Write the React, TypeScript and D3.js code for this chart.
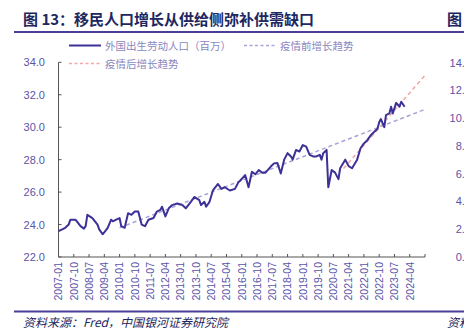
import React from "react";
import * as d3 from "d3";

const months = [
  "2007-01","2007-05","2007-07","2007-08","2007-11","2008-02","2008-04","2008-05","2008-06","2008-09",
  "2008-12","2009-01","2009-03","2009-05","2009-06","2009-08","2009-09","2009-11","2010-01","2010-02",
  "2010-04","2010-06","2010-08","2010-10","2010-12","2011-02","2011-04","2011-06","2011-09","2011-11",
  "2012-01","2012-02","2012-04","2012-06","2012-08","2012-11","2013-02","2013-04","2013-07","2013-09",
  "2013-12","2014-01","2014-03","2014-04","2014-06","2014-08","2014-11","2015-01","2015-03","2015-06",
  "2015-09","2015-11","2015-12","2016-03","2016-05","2016-07","2016-09","2016-11","2017-01","2017-03",
  "2017-06","2017-08","2017-10","2017-12","2018-02","2018-04","2018-06","2018-07","2018-09","2018-11",
  "2019-01","2019-03","2019-05","2019-07","2019-09","2019-11","2019-12","2020-01","2020-03","2020-04",
  "2020-06","2020-08","2020-10","2020-11","2021-02","2021-04","2021-06","2021-09","2021-11","2022-01",
  "2022-03","2022-05","2022-07","2022-09","2022-10","2022-11","2023-01","2023-02","2023-04","2023-05",
  "2023-06","2023-08","2023-10","2023-11","2024-01"
];
const laborForce = [
  23.6,23.8,24.0,24.3,24.3,23.9,23.75,23.9,24.6,24.4,
  24.0,23.7,23.4,23.66,23.8,24.3,24.2,24.3,24.4,23.9,
  23.8,24.7,24.6,24.8,24.8,24.0,23.9,24.3,24.4,24.8,
  24.9,25.1,24.5,25.0,25.2,25.3,25.2,25.0,25.4,25.7,
  25.5,25.2,25.4,25.1,25.4,26.1,26.5,26.2,26.3,26.1,
  26.2,26.6,26.7,27.05,26.3,27.25,27.1,27.36,27.2,27.2,
  27.56,27.77,27.8,27.15,28.0,28.4,28.2,28.0,28.6,28.5,
  28.9,28.8,28.3,28.2,28.2,28.3,28.0,28.4,28.6,26.3,
  27.36,27.2,26.8,27.47,28.0,27.6,27.47,28.0,28.7,29.0,
  29.2,29.5,29.7,29.9,30.3,30.5,30.0,30.75,30.85,31.26,
  30.85,31.5,31.26,31.57,31.26
];
const preTrendMonths = ["2010-01", "2025-01"];
const preTrendValues = [23.8, 31.1];
const postTrendMonths = ["2021-01", "2025-01"];
const postTrendValues = [27.45, 33.2];

const xTickLabels = [
  "2007-01","2007-10","2008-07","2009-04","2010-01","2010-10","2011-07","2012-04","2013-01","2013-10",
  "2014-07","2015-04","2016-01","2016-10","2017-07","2018-04","2019-01","2019-10","2020-07","2021-04",
  "2022-01","2022-10","2023-07","2024-04"
];
const yTicks = [22, 24, 26, 28, 30, 32, 34];
const rightTicks = ["14.0","12.0","10.0","8.0","6.0","4.0","2.0","0.0"];

const legendLabels = ["外国出生劳动人口（百万）", "疫情前增长趋势", "疫情后增长趋势"];
const title = "图 13：移民人口增长从供给侧弥补供需缺口";
const source = "资料来源：Fred，中国银河证券研究院";

const mIndex = (s: string) => {
  const [y, m] = s.split("-").map(Number);
  return (y - 2007) * 12 + (m - 1);
};

const CJK = "'Noto Sans CJK SC', 'Liberation Sans', sans-serif";
const LAT = "'Liberation Sans', Arial, sans-serif";

export default function App() {
  const x = d3.scaleLinear().domain([0, 216]).range([58.5, 425]);
  const y = d3.scaleLinear().domain([22, 34]).range([257, 62.3]);

  const line = d3
    .line<[number, number]>()
    .x((d) => x(d[0]))
    .y((d) => y(d[1]));

  const series: [number, number][] = months.map((m, i) => [mIndex(m), laborForce[i]]);
  const pre: [number, number][] = preTrendMonths.map((m, i) => [mIndex(m), preTrendValues[i]]);
  const post: [number, number][] = postTrendMonths.map((m, i) => [mIndex(m), postTrendValues[i]]);

  const xTicks = d3.range(0, 217, 9);
  const rightY = d3.scaleLinear().domain([0, 7]).range([62.5, 257]);

  const tickColor = "#5a54a8";
  const legendColor = "#8a86bd";
  const mainColor = "#3b3196";

  return (
    <svg
      width={464}
      height={331}
      style={{ position: "absolute", left: 0, top: 0, background: "#fff" }}
    >
      <text x={23} y={25} fontFamily={CJK} fontWeight="bold" fontSize={15} fill="#1d2760">
        {title}
      </text>
      <text x={447} y={25} fontFamily={CJK} fontWeight="bold" fontSize={15} fill="#1d2760">
        图
      </text>
      <line x1={14} x2={464} y1={32} y2={32} stroke="#4a3f98" strokeWidth={2} />

      {/* legend */}
      <line x1={69} x2={101} y1={45.5} y2={45.5} stroke={mainColor} strokeWidth={2} />
      <text x={105} y={49.5} fontFamily={CJK} fontSize={10.5} fill={legendColor}>
        {legendLabels[0]}
      </text>
      <line x1={244} x2={277} y1={45.5} y2={45.5} stroke="#a9a3d6" strokeWidth={1.5} strokeDasharray="3,2.5" />
      <text x={280} y={49.5} fontFamily={CJK} fontSize={10.5} fill={legendColor}>
        {legendLabels[1]}
      </text>
      <line x1={69} x2={101} y1={63.5} y2={63.5} stroke="#f4a6a6" strokeWidth={1.5} strokeDasharray="3,2.5" />
      <text x={105} y={67.5} fontFamily={CJK} fontSize={10.5} fill={legendColor}>
        {legendLabels[2]}
      </text>

      {/* axes */}
      <line x1={x(0)} x2={x(0)} y1={y(34)} y2={y(22)} stroke="#555" strokeWidth={1} />
      <line x1={x(0)} x2={x(216)} y1={y(22)} y2={y(22)} stroke="#555" strokeWidth={1} />
      {yTicks.map((t) => (
        <g key={t}>
          <line x1={x(0)} x2={x(0) + 3} y1={y(t)} y2={y(t)} stroke="#555" />
          <text x={45} y={y(t) + 4} textAnchor="end" fontFamily={LAT} fontSize={11} fill={tickColor}>
            {t.toFixed(1)}
          </text>
        </g>
      ))}
      {xTicks.map((t) => (
        <line key={t} x1={x(t)} x2={x(t)} y1={y(22)} y2={y(22) - 3} stroke="#555" />
      ))}
      {xTickLabels.map((lab) => {
        const px = x(mIndex(lab));
        return (
          <text
            key={lab}
            transform={`translate(${px + 3.8},262) rotate(-90)`}
            textAnchor="end"
            fontFamily={LAT}
            fontSize={10.5}
            fill={tickColor}
          >
            {lab}
          </text>
        );
      })}

      {/* trend lines */}
      <path d={line(pre) || ""} fill="none" stroke="#a9a3d6" strokeWidth={1.5} strokeDasharray="4,3" />
      <path d={line(post) || ""} fill="none" stroke="#f4a6a6" strokeWidth={1.5} strokeDasharray="4,3" />
      {/* main series */}
      <path d={line(series) || ""} fill="none" stroke={mainColor} strokeWidth={2} strokeLinejoin="round" />

      {/* right neighbour chart fragment */}
      {rightTicks.map((t, i) => (
        <text key={t} x={471} y={rightY(i) + 4} textAnchor="end" fontFamily={LAT} fontSize={11} fill={tickColor}>
          {t}
        </text>
      ))}

      {/* footer */}
      <line x1={14} x2={464} y1={311.5} y2={311.5} stroke="#4a3f98" strokeWidth={2} />
      <text x={23} y={327} fontFamily={CJK} fontStyle="italic" fontSize={12} fill="#1d2760">
        {source}
      </text>
      <text x={447} y={327} fontFamily={CJK} fontStyle="italic" fontSize={12} fill="#1d2760">
        资料
      </text>
    </svg>
  );
}
